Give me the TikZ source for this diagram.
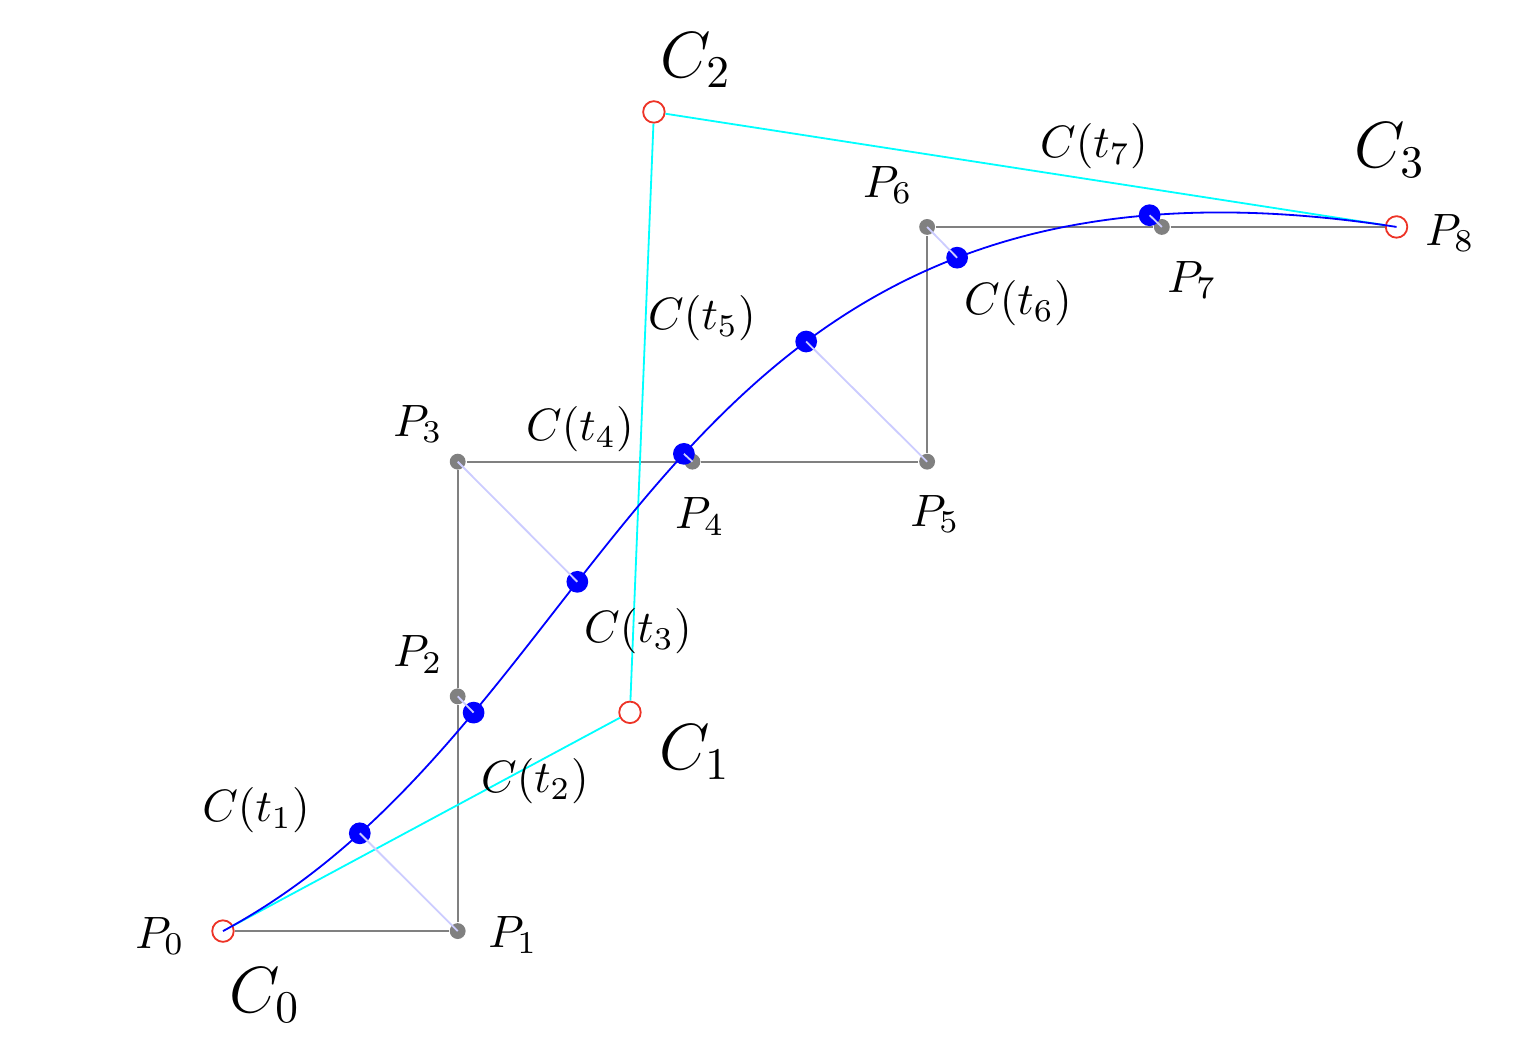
\documentclass[tikz,border=0pt]{standalone}
\definecolor{polycyan}{rgb}{0,1,1}
\definecolor{ptred}{rgb}{0.93,0.2,0.15}
\begin{document}
\begin{tikzpicture}[x=1.82cm,y=1.82cm,
  ctrlpt/.style={circle,draw=ptred,inner sep=0pt,minimum size=4.75pt},
  gridpt/.style={circle,fill=gray,inner sep=0pt,minimum size=3.5pt},
  curvept/.style={circle,fill=blue,inner sep=0pt,minimum size=4.8pt},
  lbl/.style={inner sep=0pt},
  biglbl/.style={inner sep=0pt,font=\Large},
  polyline/.style={gray},
  ctrlpoly/.style={polycyan},
  fitcurve/.style={blue},
  proj/.style={blue!20}]
\useasboundingbox (-0.950,-0.473) rectangle (5.560,3.967);
% grid points
\node[ctrlpt] (P0) at (0,0) {};
\node[gridpt] (P1) at (1,0) {};
\node[gridpt] (P2) at (1,1) {};
\node[gridpt] (P3) at (1,2) {};
\node[gridpt] (P4) at (2,2) {};
\node[gridpt] (P5) at (3,2) {};
\node[gridpt] (P6) at (3,3) {};
\node[gridpt] (P7) at (4,3) {};
\node[ctrlpt] (P8) at (5,3) {};
% control points
\node[ctrlpt] (C1) at (1.734,0.932) {};
\node[ctrlpt] (C2) at (1.836,3.490) {};
% polyline
\draw[polyline] (P0) -- (P1) -- (P2) -- (P3) -- (P4) -- (P5) -- (P6) -- (P7) -- (P8);
% control polygon
\draw[ctrlpoly] (P0) -- (C1) -- (C2) -- (P8);
% curve
\draw[fitcurve] (P0.center) .. controls (C1.center) and (C2.center) .. (P8.center)
  coordinate[pos=0.125] (T1)
  coordinate[pos=0.25] (T2)
  coordinate[pos=0.375] (T3)
  coordinate[pos=0.5] (T4)
  coordinate[pos=0.625] (T5)
  coordinate[pos=0.75] (T6)
  coordinate[pos=0.875] (T7);
\foreach \i in {1,...,7} {
  \node[curvept] (D\i) at (T\i) {};
}
\foreach \i in {1,...,7} {
  \draw[proj] (D\i.center) -- (P\i.center);
}
% labels
\node[lbl] (LP0) at (-0.268,-0.021) {$P_0$};
\node[lbl] (LP1) at (1.236,-0.017) {$P_1$};
\node[lbl] (LP2) at (0.831,1.180) {$P_2$};
\node[lbl] (LP3) at (0.831,2.160) {$P_3$};
\node[lbl] (LP4) at (2.032,1.768) {$P_4$};
\node[lbl] (LP5) at (3.034,1.777) {$P_5$};
\node[lbl] (LP6) at (2.833,3.179) {$P_6$};
\node[lbl] (LP7) at (4.129,2.774) {$P_7$};
\node[lbl] (LP8) at (5.228,2.974) {$P_8$};
\node[biglbl] (LC0) at (0.179,-0.273) {$C_0$};
\node[biglbl] (LC1) at (2.011,0.763) {$C_1$};
\node[biglbl] (LC2) at (2.015,3.711) {$C_2$};
\node[biglbl] (LC3) at (4.972,3.328) {$C_3$};
\node[lbl] (LT1) at (0.141,0.516) {$C(t_1)$};
\node[lbl] (LT2) at (1.329,0.639) {$C(t_2)$};
\node[lbl] (LT3) at (1.768,1.278) {$C(t_3)$};
\node[lbl] (LT4) at (1.521,2.139) {$C(t_4)$};
\node[lbl] (LT5) at (2.041,2.612) {$C(t_5)$};
\node[lbl] (LT6) at (3.387,2.676) {$C(t_6)$};
\node[lbl] (LT7) at (3.711,3.345) {$C(t_7)$};
\end{tikzpicture}
\end{document}
